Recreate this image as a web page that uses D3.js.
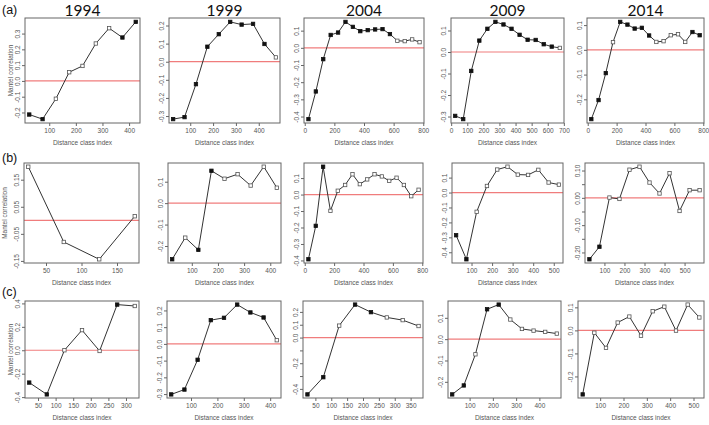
<!DOCTYPE html>
<html><head><meta charset="utf-8">
<script src="https://cdn.jsdelivr.net/npm/d3@7"></script>
<style>body{margin:0;background:#fff}svg{display:block}text{font-family:"Liberation Sans",Arial,sans-serif}</style>
</head><body><svg id="c" width="709" height="425"></svg>
<script>
const years = ["1994","1999","2004","2009","2014"];
const rowLabels = ["(a)","(b)","(c)"];
const distanceClasses = [25,75,125,175,225,275,325,375,425,475,525,575,625,675,725,775];

// Row (a)
const a1994 = [-0.213,-0.242,-0.113,0.055,0.095,0.237,0.334,0.275,0.374];
const a1994Sig = [1,1,0,0,0,0,0,1,1];
const a1999 = [-0.317,-0.306,-0.124,0.083,0.152,0.220,0.205,0.209,0.098,0.024];
const a1999Sig = [1,1,1,1,1,1,1,1,1,0];
const a2004 = [-0.415,-0.254,-0.066,0.075,0.089,0.151,0.122,0.097,0.103,0.107,0.109,0.080,0.041,0.039,0.049,0.033];
const a2004Sig = [1,1,1,1,1,1,1,1,1,1,1,1,0,0,0,0];
const a2009 = [-0.297,-0.312,-0.088,0.053,0.108,0.140,0.128,0.108,0.080,0.057,0.056,0.036,0.025,0.019];
const a2009Sig = [1,1,1,1,1,1,1,1,1,1,1,1,1,0];
const a2014 = [-0.280,-0.203,-0.094,0.031,0.113,0.102,0.086,0.089,0.058,0.032,0.035,0.059,0.063,0.032,0.072,0.059];
const a2014Sig = [1,1,1,0,1,1,1,1,1,0,0,0,0,0,1,1];

// Row (b)
const b1994 = [0.198,-0.080,-0.144,0.015];
const b1994Sig = [0,0,0,0];
const b1999 = [-0.262,-0.161,-0.218,0.151,0.114,0.135,0.082,0.170,0.072];
const b1999Sig = [1,0,1,1,0,0,0,0,0];
const b2004 = [-0.393,-0.190,0.169,-0.099,0.023,0.058,0.123,0.063,0.092,0.123,0.110,0.083,0.102,0.058,-0.010,0.029];
const b2004Sig = [1,1,1,0,0,0,0,0,0,0,0,0,0,0,0,0];
const b2009 = [-0.286,-0.447,-0.129,0.044,0.154,0.173,0.120,0.118,0.152,0.067,0.053];
const b2009Sig = [1,1,0,0,0,0,0,0,0,0,0];
const b2014 = [-0.225,-0.179,0.001,-0.004,0.103,0.114,0.056,0.016,0.090,-0.048,0.028,0.028];
const b2014Sig = [1,1,0,0,0,0,0,0,0,0,0,0];

// Row (c)
const c1994 = [-0.276,-0.377,0.000,0.172,-0.006,0.390,0.378];
const c1994Sig = [1,1,0,0,0,1,0];
const c1999 = [-0.302,-0.273,-0.095,0.142,0.156,0.235,0.188,0.158,0.022];
const c1999Sig = [1,1,1,1,1,1,1,1,0];
const c2004 = [-0.443,-0.309,0.093,0.257,0.198,0.157,0.136,0.090];
const c2004Sig = [1,1,0,1,1,0,0,0];
const c2009 = [-0.259,-0.217,-0.071,0.140,0.162,0.092,0.048,0.040,0.034,0.026];
const c2009Sig = [1,1,0,1,1,0,0,0,0,0];
const c2014 = [-0.278,-0.010,-0.076,0.034,0.060,-0.023,0.083,0.103,-0.001,0.112,0.056];
const c2014Sig = [1,0,0,0,0,0,0,0,0,0,0];

// Tick values
const xt100_400 = [100,200,300,400];
const xt0_800 = [0,200,400,600,800];
const xt0_700 = [0,100,200,300,400,500,600,700];
const xt100_500 = [100,200,300,400,500];
const xt50_150 = [50,100,150];
const xt50_300 = [50,100,150,200,250,300];
const xt50_350 = [50,100,150,200,250,300,350];

const ytA1994 = [-0.2,-0.1,0,0.1,0.2,0.3];
const ytA1999 = [-0.3,-0.2,-0.1,0,0.1,0.2];
const ytA2004 = [-0.4,-0.3,-0.2,-0.1,0,0.1];
const ytA2009 = [-0.3,-0.2,-0.1,0,0.1];
const ytA2014 = [-0.2,-0.1,0,0.1];
const ytB1994 = [-0.15,-0.05,0.05,0.15];
const ytB1999 = [-0.2,-0.1,0,0.1];
const ytB2004 = [-0.4,-0.3,-0.2,-0.1,0,0.1];
const ytB2009 = [-0.4,-0.3,-0.2,-0.1,0,0.1];
const ytB2014 = [-0.20,-0.15,-0.10,-0.05,0,0.05,0.10];
const ytB2014Lab = [-0.20,-0.10,0,0.10];
const ytC1994 = [-0.4,-0.2,0,0.2,0.4];
const ytC1999 = [-0.3,-0.2,-0.1,0,0.1,0.2];
const ytC2004 = [-0.4,-0.3,-0.2,-0.1,0,0.1,0.2];
const ytC2004Lab = [-0.4,-0.2,0,0.1,0.2];
const ytC2009 = [-0.2,-0.1,0,0.1];
const ytC2014 = [-0.2,-0.1,0,0.1];

const panels = [
  [ {v:a1994,s:a1994Sig,xt:xt100_400,yt:ytA1994},
    {v:a1999,s:a1999Sig,xt:xt100_400,yt:ytA1999},
    {v:a2004,s:a2004Sig,xt:xt0_800,yt:ytA2004},
    {v:a2009,s:a2009Sig,xt:xt0_700,yt:ytA2009},
    {v:a2014,s:a2014Sig,xt:xt0_800,yt:ytA2014} ],
  [ {v:b1994,s:b1994Sig,xt:xt50_150,yt:ytB1994,dec:2},
    {v:b1999,s:b1999Sig,xt:xt100_400,yt:ytB1999},
    {v:b2004,s:b2004Sig,xt:xt0_800,yt:ytB2004},
    {v:b2009,s:b2009Sig,xt:xt100_500,yt:ytB2009},
    {v:b2014,s:b2014Sig,xt:xt100_500,yt:ytB2014,yl:ytB2014Lab,dec:2} ],
  [ {v:c1994,s:c1994Sig,xt:xt50_300,yt:ytC1994},
    {v:c1999,s:c1999Sig,xt:xt100_400,yt:ytC1999},
    {v:c2004,s:c2004Sig,xt:xt50_350,yt:ytC2004,yl:ytC2004Lab},
    {v:c2009,s:c2009Sig,xt:xt100_400,yt:ytC2009},
    {v:c2014,s:c2014Sig,xt:xt100_500,yt:ytC2014} ]
];

// layout (pixels)
const boxLeft  = [[25,169,304,451,587],[24,168,304,452,585],[25,167,303,448,578]];
const boxRight = [[140,280,424,564,704],[139,281,423,563,704],[139,281,423,561,704]];
const boxTop = [18,163,301];
const boxBottom = [123,263,398];
const mantelX = [13,7,13];

const svg = d3.select("#c");
const ink = "#333", boxCol = "#666", red = "#f07c7c";

function pad(ext){const r=ext[1]-ext[0];return [ext[0]-0.04*r, ext[1]+0.04*r];}

panels.forEach((row,ri)=>{
  row.forEach((p,ci)=>{
    const L=boxLeft[ri][ci], R=boxRight[ri][ci], T=boxTop[ri], B=boxBottom[ri];
    const xs = distanceClasses.slice(0,p.v.length);
    const x = d3.scaleLinear().domain(pad(d3.extent(xs))).range([L,R]);
    const y = d3.scaleLinear().domain(pad(d3.extent(p.v))).range([B,T]);
    const g = svg.append("g");
    g.append("line").attr("x1",L).attr("x2",R).attr("y1",y(0)).attr("y2",y(0))
      .attr("stroke",red).attr("stroke-width",1.2);
    const xa = g.append("g").attr("transform",`translate(0,${B})`)
      .call(d3.axisBottom(x).tickValues(p.xt).tickSize(3).tickPadding(2).tickFormat(d3.format("d")));
    xa.select(".domain").remove();
    xa.selectAll("line").attr("stroke",boxCol);
    xa.selectAll("text").attr("font-size",6.5).attr("fill","#555");
    const dec = p.dec||1;
    const labs = p.yl||p.yt;
    const ya = g.append("g").attr("transform",`translate(${L},0)`)
      .call(d3.axisLeft(y).tickValues(p.yt).tickSize(3)
        .tickFormat(d=> labs.some(l=>Math.abs(l-d)<1e-9) ? (Math.abs(d)<1e-9?(0).toFixed(dec):d.toFixed(dec)) : ""));
    ya.select(".domain").remove();
    ya.selectAll("line").attr("stroke",boxCol);
    ya.selectAll("text").attr("font-size",6.5).attr("fill","#555")
      .attr("text-anchor","middle").attr("dy",null).attr("x",null)
      .attr("transform","translate(-5,0) rotate(-90)");
    g.append("rect").attr("x",L).attr("y",T).attr("width",R-L).attr("height",B-T)
      .attr("fill","none").attr("stroke",boxCol).attr("stroke-width",1);
    const pts = p.v.map((v,i)=>[xs[i],v,p.s[i]]);
    g.append("path").datum(pts)
      .attr("d",d3.line().x(d=>x(d[0])).y(d=>y(d[1])))
      .attr("fill","none").attr("stroke",ink).attr("stroke-width",1);
    g.selectAll("rect.pt").data(pts).enter().append("rect").attr("class","pt")
      .attr("x",d=>x(d[0])-1.7).attr("y",d=>y(d[1])-1.7).attr("width",3.4).attr("height",3.4)
      .attr("fill",d=>d[2]?"#111":"#fff").attr("stroke",d=>d[2]?"#111":"#555").attr("stroke-width",0.8);
    g.append("text").attr("x",(L+R)/2).attr("y",B+22).attr("text-anchor","middle")
      .attr("font-size",6.5).attr("fill","#555").text("Distance class index");
    if(ri===0){
      g.append("text").attr("x",(L+R)/2).attr("y",16).attr("text-anchor","middle")
        .style("font-family","Lato, 'Open Sans', sans-serif")
        .attr("font-size",15.5).attr("fill","#111").text(years[ci]);
    }
    if(ci===0){
      g.append("text").attr("transform",`translate(${mantelX[ri]},${(T+B)/2}) rotate(-90)`)
        .attr("text-anchor","middle").attr("font-size",6.5).attr("fill","#555").text("Mantel correlation");
    }
  });
  svg.append("text").attr("x",2).attr("y",[14,162,296][ri]).attr("font-size",12.5).attr("fill","#111").text(rowLabels[ri]);
});
</script></body></html>
